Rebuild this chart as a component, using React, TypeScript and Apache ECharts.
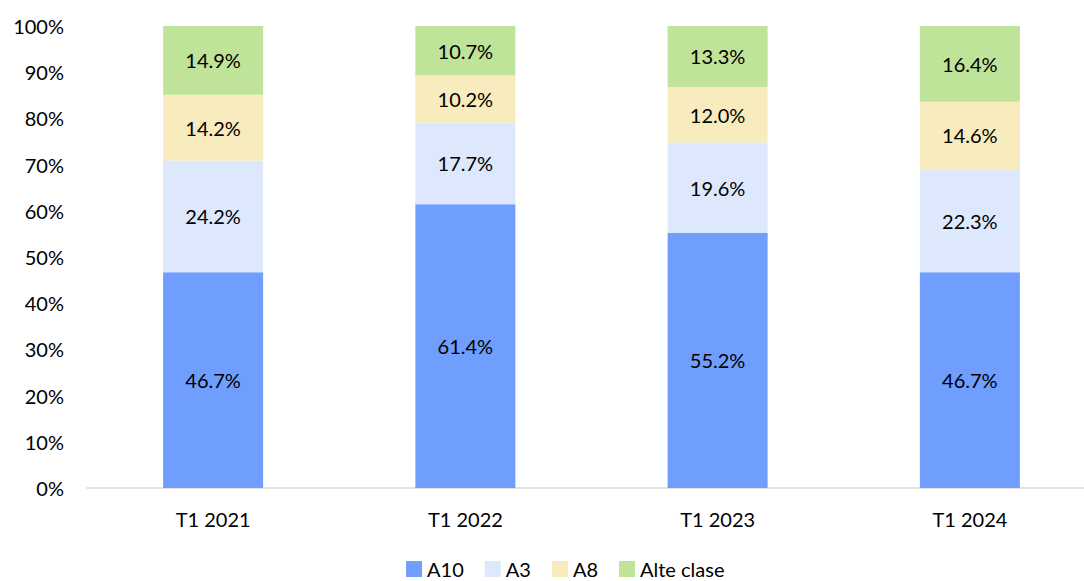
import React, { useEffect, useRef } from "react";
import * as echarts from "echarts";

const categories = ["T1 2021", "T1 2022", "T1 2023", "T1 2024"];
const a10 = [46.7, 61.4, 55.2, 46.7];
const a3 = [24.2, 17.7, 19.6, 22.3];
const a8 = [14.2, 10.2, 12.0, 14.6];
const alteClase = [14.9, 10.7, 13.3, 16.4];
const seriesNames = ["A10", "A3", "A8", "Alte clase"];
const colors = ["#6F9EFF", "#DDE8FC", "#F8EBBE", "#BFE398"];

const FONT = "Lato, 'Noto Sans', sans-serif";

export default function App() {
  const ref = useRef<HTMLDivElement>(null);
  useEffect(() => {
    if (!ref.current) return;
    const chart = echarts.init(ref.current, undefined, { renderer: "svg" });
    const datasets = [a10, a3, a8, alteClase];
    chart.setOption({
      animation: false,
      textStyle: { fontFamily: FONT },
      grid: { left: 87, right: 4, top: 26, bottom: 93, containLabel: false },
      legend: {
        top: 554,
        left: 401,
        padding: 5,
        itemWidth: 16,
        itemHeight: 16,
        itemGap: 21,
        icon: "rect",
        textStyle: { fontSize: 20, color: "#000", fontFamily: FONT },
        data: seriesNames,
      },
      xAxis: {
        type: "category",
        data: categories,
        axisLine: { lineStyle: { color: "#D9D9D9", width: 1.5 } },
        axisTick: { show: false },
        axisLabel: { fontSize: 20, color: "#000", margin: 21, fontFamily: FONT },
      },
      yAxis: {
        type: "value",
        min: 0,
        max: 100,
        interval: 10,
        axisLine: { show: false },
        axisTick: { show: false },
        splitLine: { show: false },
        axisLabel: {
          fontSize: 20,
          color: "#000",
          margin: 23,
          fontFamily: FONT,
          formatter: (v: number) => v + "%",
        },
      },
      series: datasets.map((d, i) => ({
        name: seriesNames[i],
        type: "bar",
        stack: "total",
        barWidth: 100,
        data: d,
        itemStyle: { color: colors[i] },
        label: {
          show: true,
          position: "inside",
          color: "#000",
          fontSize: 20,
          fontFamily: FONT,
          formatter: (p: any) => p.value.toFixed(1) + "%",
        },
      })),
    });
    return () => chart.dispose();
  }, []);
  return (
    <div style={{ position: "fixed", left: 0, top: 0, width: 1084, height: 581, overflow: "hidden", background: "#fff" }}>
      <div ref={ref} style={{ width: 1100, height: 581 }} />
    </div>
  );
}
